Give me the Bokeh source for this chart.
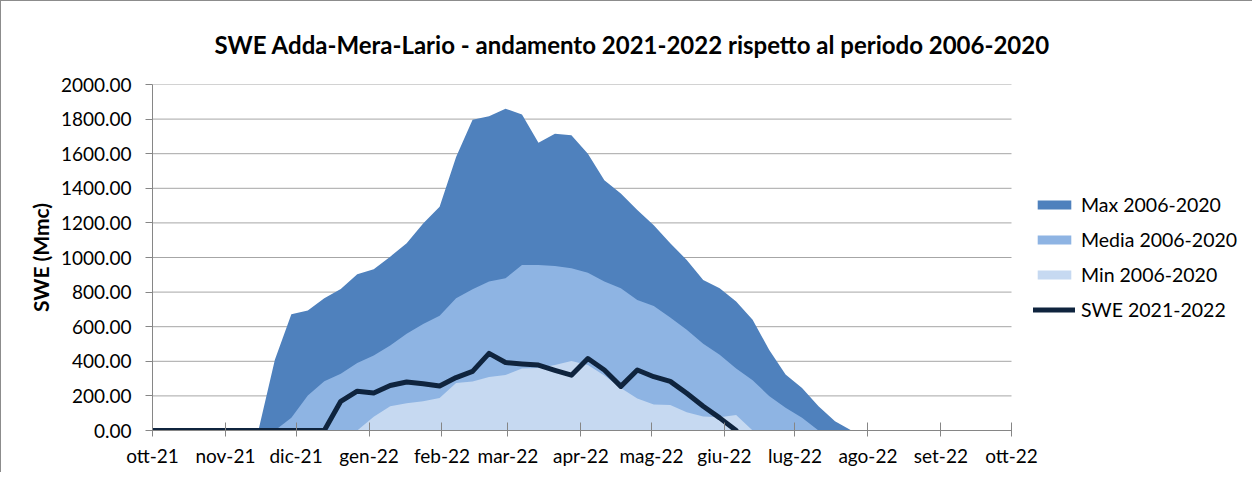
import pandas as pd
from bokeh.plotting import figure
from bokeh.models import (ColumnDataSource, Range1d, FixedTicker, Legend, LegendItem,
                          NumeralTickFormatter)
from bokeh.embed import file_html
from bokeh.resources import INLINE

# ---------------- data ----------------
dates = ["2021-09-27", "2021-10-04", "2021-10-11", "2021-10-18", "2021-10-25",
         "2021-11-01", "2021-11-08", "2021-11-15", "2021-11-22", "2021-11-29",
         "2021-12-06", "2021-12-13", "2021-12-20", "2021-12-27", "2022-01-03",
         "2022-01-10", "2022-01-17", "2022-01-24", "2022-01-31", "2022-02-07",
         "2022-02-14", "2022-02-21", "2022-02-28", "2022-03-07", "2022-03-14",
         "2022-03-21", "2022-03-28", "2022-04-04", "2022-04-11", "2022-04-18",
         "2022-04-25", "2022-05-02", "2022-05-09", "2022-05-16", "2022-05-23",
         "2022-05-30", "2022-06-06", "2022-06-13", "2022-06-20", "2022-06-27",
         "2022-07-04", "2022-07-11", "2022-07-18", "2022-07-25", "2022-08-01",
         "2022-08-08", "2022-08-15", "2022-08-22", "2022-08-29", "2022-09-05",
         "2022-09-12", "2022-09-19", "2022-09-26"]

max_0620 = [0, 0, 0, 0, 0, 0, 0, 0, 409, 672,
            693, 764, 818, 903, 932, 1005, 1082, 1197, 1293, 1581,
            1796, 1816, 1860, 1827, 1664, 1716, 1706, 1600, 1447, 1370,
            1274, 1187, 1082, 986, 870, 822, 745, 640, 467, 323,
            246, 140, 54, 0, 0, 0, 0, 0, 0, 0,
            0, 0, 0]

media_0620 = [0, 0, 0, 0, 0, 0, 0, 0, 0, 73,
              202, 284, 328, 390, 434, 492, 559, 615, 663, 765,
              817, 861, 880, 957, 957, 951, 938, 912, 861, 822,
              755, 720, 653, 582, 501, 438, 358, 290, 200, 131,
              73, 0, 0, 0, 0, 0, 0, 0, 0, 0,
              0, 0, 0]

min_0620 = [0, 0, 0, 0, 0, 0, 0, 0, 0, 0,
            0, 0, 0, 0, 80, 140, 158, 169, 188, 275,
            283, 309, 321, 358, 361, 378, 402, 378, 318, 246,
            185, 150, 148, 106, 81, 76, 89, 0, 0, 0,
            0, 0, 0, 0, 0, 0, 0, 0, 0, 0,
            0, 0, 0]

swe_2122 = [0, 0, 0, 0, 0, 0, 0, 0, 0, 0,
            0, 0, 169, 227, 217, 260, 280, 270, 257, 306,
            342, 446, 393, 385, 378, 348, 320, 416, 350, 255,
            350, 311, 284, 215, 140, 73, 0]

month_ticks = ["2021-10-01", "2021-11-01", "2021-12-01", "2022-01-01", "2022-02-01",
               "2022-03-01", "2022-04-01", "2022-05-01", "2022-06-01", "2022-07-01",
               "2022-08-01", "2022-09-01", "2022-10-01"]
month_labels = ["ott-21", "nov-21", "dic-21", "gen-22", "feb-22", "mar-22", "apr-22",
                "mag-22", "giu-22", "lug-22", "ago-22", "set-22", "ott-22"]
y_ticks = [0, 200, 400, 600, 800, 1000, 1200, 1400, 1600, 1800, 2000]

series_names = ["Max 2006-2020", "Media 2006-2020", "Min 2006-2020", "SWE 2021-2022"]
colors = ["#4f81bd", "#8eb4e3", "#c6d9f1", "#0f243e"]

title_text = "SWE Adda-Mera-Lario - andamento 2021-2022 rispetto al periodo 2006-2020"

# ---------------- layout constants (pixels) ----------------
FIG_W, FIG_H = 1252, 472
LEFT, TOP, BOTTOM, RIGHT = 151, 82, 43, 4
DATA_W = 859                      # pixel width of the dated part of the plot area
FRAME_W = FIG_W - LEFT - RIGHT    # plot area incl. room for the legend on the right

# ---------------- build ----------------
def ms(d):
    return pd.Timestamp(d).timestamp() * 1000.0

x_start, x_end = ms(month_ticks[0]), ms(month_ticks[-1])
x_view_end = x_start + (x_end - x_start) * FRAME_W / DATA_W

x = pd.to_datetime(dates)
src = ColumnDataSource(dict(x=x, mx=max_0620, md=media_0620, mn=min_0620, zero=[0] * len(dates)))
line_src = ColumnDataSource(dict(x=x[:len(swe_2122)], y=swe_2122))
grid_src = ColumnDataSource(dict(x0=[x_start] * len(y_ticks), x1=[x_end] * len(y_ticks),
                                 y=y_ticks))

FONT = "Lato"
p = figure(width=FIG_W, height=FIG_H, x_axis_type="datetime",
           x_range=Range1d(x_start, x_view_end),
           y_range=Range1d(y_ticks[0], y_ticks[-1]),
           output_backend="svg", toolbar_location=None,
           min_border_left=LEFT, min_border_right=RIGHT, min_border_top=TOP, min_border_bottom=BOTTOM,
           styles={"border-top": "1px solid #8c8c8c", "border-left": "1px solid #8c8c8c"})

# horizontal gridlines only across the dated part
p.segment(x0="x0", x1="x1", y0="y", y1="y", source=grid_src, line_color="#a6a6a6", line_width=1)

r_max = p.varea(x="x", y1="zero", y2="mx", source=src, fill_color=colors[0])
r_med = p.varea(x="x", y1="zero", y2="md", source=src, fill_color=colors[1])
r_min = p.varea(x="x", y1="zero", y2="mn", source=src, fill_color=colors[2])
r_swe = p.line(x="x", y="y", source=line_src, line_color=colors[3], line_width=5,
               line_join="round", line_cap="round")

p.title.text = title_text
p.title.align = "left"
p.title.offset = 62
p.title.standoff = 52
p.title.text_font = FONT
p.title.text_font_style = "bold"
p.title.text_font_size = "24px"
p.title.text_color = "#000000"

p.outline_line_color = None
p.xgrid.grid_line_color = None
p.ygrid.grid_line_color = None

xa = p.xaxis[0]
xa.ticker = FixedTicker(ticks=[ms(d) for d in month_ticks])
xa.major_label_overrides = {ms(d): lab for d, lab in zip(month_ticks, month_labels)}
xa.bounds = (x_start, x_end)
xa.axis_line_color = "#868686"
xa.major_tick_line_color = "#868686"
xa.major_tick_in = 8
xa.major_tick_out = 6
xa.minor_tick_line_color = None
xa.major_label_text_font = FONT
xa.major_label_text_font_size = "19px"
xa.major_label_text_color = "#000000"
xa.major_label_standoff = 7

ya = p.yaxis[0]
ya.ticker = FixedTicker(ticks=y_ticks)
ya.formatter = NumeralTickFormatter(format="0.00")
ya.axis_line_color = "#868686"
ya.major_tick_line_color = "#868686"
ya.major_tick_in = 0
ya.major_tick_out = 7
ya.minor_tick_line_color = None
ya.major_label_text_font = FONT
ya.major_label_text_font_size = "19px"
ya.major_label_text_color = "#000000"
ya.major_label_standoff = 14
ya.axis_label = "SWE (Mmc)"
ya.axis_label_text_font = FONT
ya.axis_label_text_font_style = "bold"
ya.axis_label_text_font_size = "21px"
ya.axis_label_text_color = "#000000"
ya.axis_label_standoff = 5

legend = Legend(items=[LegendItem(label=series_names[0], renderers=[r_max]),
                       LegendItem(label=series_names[1], renderers=[r_med]),
                       LegendItem(label=series_names[2], renderers=[r_min]),
                       LegendItem(label=series_names[3], renderers=[r_swe])],
                location=(881, 109), orientation="vertical",
                glyph_width=42, glyph_height=11, label_height=24, spacing=11,
                label_standoff=6, padding=0, margin=0,
                border_line_color=None, background_fill_alpha=0,
                label_text_font=FONT, label_text_font_size="19.5px", label_text_color="#000000")
p.add_layout(legend)

open("out.html", "w").write(file_html(p, INLINE))
